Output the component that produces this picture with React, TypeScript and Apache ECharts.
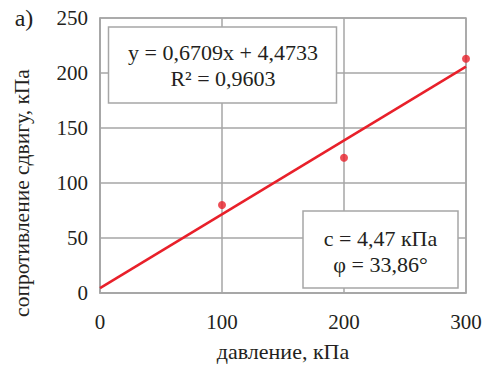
import React, { useEffect, useRef } from "react";
import * as echarts from "echarts";

const pressure = [100, 200, 300];
const shear = [80, 123, 213];
const slope = 0.6709;
const intercept = 4.4733;
const lineX = [0, 300];
const xTicks = [0, 100, 200, 300];
const yTicks = [0, 50, 100, 150, 200, 250];
const eqLines = ["y = 0,6709x + 4,4733", "R² = 0,9603"];
const resLines = ["c = 4,47 кПа", "φ = 33,86°"];

const FONT = "Times New Roman";
const INK = "#231f20";

export default function App() {
  const ref = useRef<HTMLDivElement>(null);
  useEffect(() => {
    if (!ref.current) return;
    const chart = echarts.init(ref.current, null, { renderer: "svg" });
    const grey = "#a6a6a6";
    chart.setOption({
      animation: false,
      backgroundColor: "#fff",
      textStyle: { fontFamily: FONT },
      grid: { left: 100, top: 18, width: 366, height: 278, show: true, borderColor: grey, borderWidth: 1.5 },
      xAxis: {
        type: "value",
        min: 0,
        max: 300,
        interval: 100,
        name: "давление, кПа",
        nameLocation: "middle",
        nameGap: 47,
        nameTextStyle: { fontFamily: FONT, fontSize: 22, color: INK },
        axisLine: { show: true, lineStyle: { color: grey, width: 1.5 } },
        axisTick: { show: false },
        axisLabel: { fontFamily: FONT, fontSize: 21, color: INK, margin: 18, formatter: (v: number) => (xTicks.includes(v) ? String(v) : "") },
        splitLine: { show: true, lineStyle: { color: grey, width: 1.5 } },
      },
      yAxis: {
        type: "value",
        min: 0,
        max: 250,
        interval: 50,
        axisLine: { show: true, lineStyle: { color: grey, width: 1.5 } },
        axisTick: { show: false },
        axisLabel: { fontFamily: FONT, fontSize: 21, color: INK, margin: 12, formatter: (v: number) => (yTicks.includes(v) ? String(v) : "") },
        splitLine: { show: true, lineStyle: { color: grey, width: 1.5 } },
      },
      series: [
        {
          type: "line",
          data: lineX.map((x) => [x, slope * x + intercept]),
          showSymbol: false,
          lineStyle: { color: "#e8202a", width: 2.5 },
          z: 3,
        },
        {
          type: "scatter",
          data: pressure.map((x, i) => [x, shear[i]]),
          symbolSize: 8,
          itemStyle: { color: "#e8202a" },
          z: 4,
        },
      ],
      graphic: [
        {
          type: "text",
          x: 24,
          y: 18,
          style: { text: "а)", fontFamily: FONT, fontSize: 24, fill: INK, align: "center", verticalAlign: "middle" },
        },
        {
          type: "text",
          x: 22,
          y: 193,
          rotation: Math.PI / 2,
          style: { text: "сопротивление сдвигу, кПа", fontFamily: FONT, fontSize: 21.5, fill: INK, align: "center", verticalAlign: "middle" },
        },
        {
          type: "rect",
          shape: { x: 108.5, y: 27, width: 228, height: 76 },
          style: { fill: "#fff", stroke: grey, lineWidth: 1.5 },
          z: 10,
        },
        {
          type: "text",
          x: 223,
          y: 65,
          style: { text: eqLines.join("\n"), fontFamily: FONT, fontSize: 22, lineHeight: 26, fill: INK, align: "center", verticalAlign: "middle" },
          z: 11,
        },
        {
          type: "rect",
          shape: { x: 303, y: 211, width: 155, height: 77 },
          style: { fill: "#fff", stroke: grey, lineWidth: 1.5 },
          z: 10,
        },
        {
          type: "text",
          x: 380.5,
          y: 251,
          style: { text: resLines.join("\n"), fontFamily: FONT, fontSize: 22, lineHeight: 26, fill: INK, align: "center", verticalAlign: "middle" },
          z: 11,
        },
      ],
    });
    return () => chart.dispose();
  }, []);
  return <div ref={ref} style={{ width: 485, height: 367, position: "absolute", left: 0, top: 0 }} />;
}
